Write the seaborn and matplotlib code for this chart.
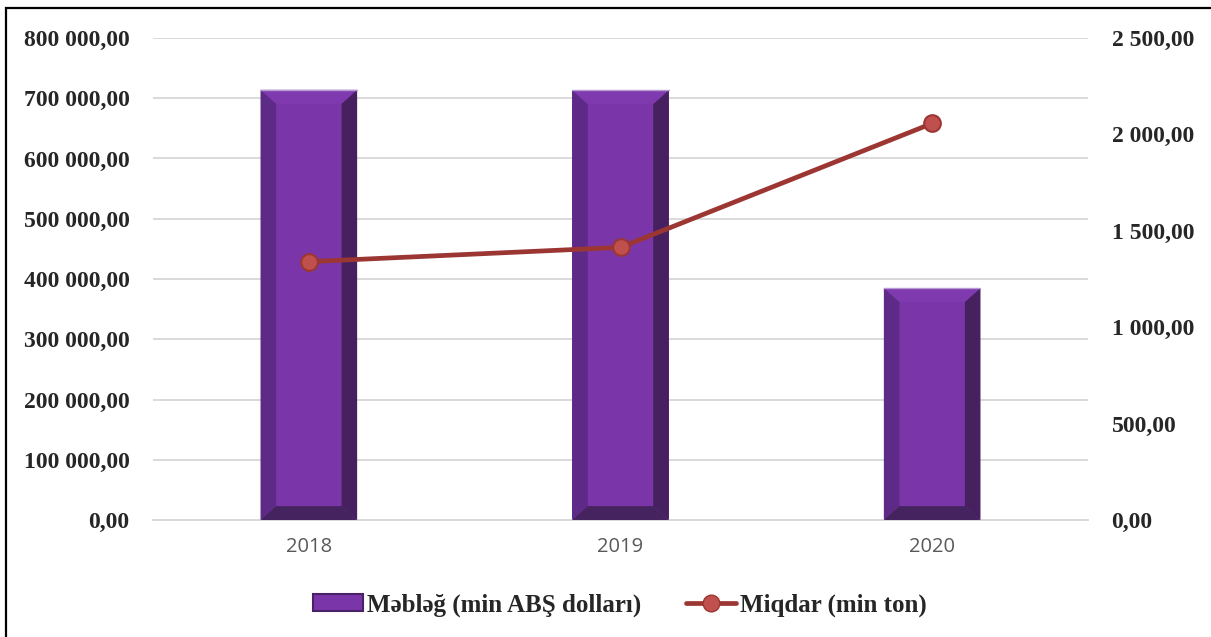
import matplotlib
matplotlib.use("Agg")
import matplotlib.pyplot as plt
from matplotlib.patches import Polygon, Rectangle, Patch
from matplotlib.lines import Line2D
from matplotlib.ticker import FuncFormatter, MultipleLocator
import seaborn as sns
import pandas as pd

# data
years = ["2018", "2019", "2020"]
amount = [714000, 713500, 385000]      # Məbləğ (min ABŞ dolları), left axis
quantity = [1340, 1414, 2057]          # Miqdar (min ton), right axis

bar_label = "Məbləğ (min ABŞ dolları)"
line_label = "Miqdar (min ton)"

df = pd.DataFrame({"year": years, "amount": amount, "quantity": quantity})

purple = "#7A36A8"
line_red = "#9C3633"
marker_red = "#C0504D"
serif = ["Liberation Serif", "DejaVu Serif"]


def fmt(v, pos):
    s = f"{v:,.2f}"
    return s.replace(",", " ").replace(".", ",")


sns.set_style("white")
plt.rcParams["font.family"] = serif

fig = plt.figure(figsize=(12.11, 6.37), dpi=100)
ax = fig.add_axes([153 / 1211, 117 / 637, 935 / 1211, 482 / 637])

sns.barplot(data=df, x="year", y="amount", ax=ax, color=purple,
            width=0.31, saturation=1, edgecolor="none")
ax.set_xlim(-0.5, 2.5)
ax.set_ylim(0, 800000)
ax.yaxis.set_major_locator(MultipleLocator(100000))
ax.yaxis.set_major_formatter(FuncFormatter(fmt))
ax.grid(axis="y", color="#D9D9D9", linewidth=1.4)
ax.set_axisbelow(True)
for s in ["top", "right", "left"]:
    ax.spines[s].set_visible(False)
ax.spines["bottom"].set_color("#D9D9D9")
ax.spines["bottom"].set_linewidth(1.4)
ax.set_xlabel("")
ax.set_ylabel("")
ax.tick_params(axis="y", length=0, pad=17, labelsize=17)
ax.tick_params(axis="x", length=0, pad=12, labelsize=14.5, labelcolor="#595959")
for t in ax.get_yticklabels():
    t.set_fontweight("bold")
for t in ax.get_xticklabels():
    t.set_fontfamily(["Open Sans", "DejaVu Sans"])

# bevel effect on each bar drawn by seaborn
dx = 0.05
dy = 23000
for p in list(ax.patches):
    x0, y0 = p.get_x(), p.get_y()
    x1, y1 = x0 + p.get_width(), y0 + p.get_height()
    faces = [
        ([(x0, y0), (x0 + dx, y0 + dy), (x0 + dx, y1 - dy), (x0, y1)], "#5E2A88"),
        ([(x1, y0), (x1 - dx, y0 + dy), (x1 - dx, y1 - dy), (x1, y1)], "#46205F"),
        ([(x0, y0), (x1, y0), (x1 - dx, y0 + dy), (x0 + dx, y0 + dy)], "#44235E"),
        ([(x0, y1), (x1, y1), (x1 - dx, y1 - dy), (x0 + dx, y1 - dy)], "#7E3AAE"),
    ]
    for pts, c in faces:
        ax.add_patch(Polygon(pts, closed=True, facecolor=c, edgecolor="none", zorder=3))
    ax.add_line(Line2D([x0, x1], [y1, y1], color="#B79AD0", linewidth=1, zorder=4))

ax2 = ax.twinx()
sns.pointplot(data=df, x="year", y="quantity", ax=ax2, color=line_red,
              markers="o", linestyles="-", errorbar=None)
for ln in ax2.lines:
    ln.set_linewidth(3.4)
    ln.set_markersize(12)
    ln.set_markerfacecolor(marker_red)
    ln.set_markeredgecolor(line_red)
    ln.set_markeredgewidth(1.5)
ax2.set_xlim(-0.5, 2.5)
ax2.set_ylim(0, 2500)
ax2.yaxis.set_major_locator(MultipleLocator(500))
ax2.yaxis.set_major_formatter(FuncFormatter(fmt))
for s in ["top", "right", "left", "bottom"]:
    ax2.spines[s].set_visible(False)
ax2.set_xlabel("")
ax2.set_ylabel("")
ax2.grid(False)
ax2.tick_params(axis="y", length=0, pad=17, labelsize=17)
for t in ax2.get_yticklabels():
    t.set_fontweight("bold")

handles = [
    Patch(facecolor=purple, edgecolor="#4A2166", linewidth=1.5),
    Line2D([], [], color=line_red, linewidth=3.4, marker="o", markersize=12,
           markerfacecolor=marker_red, markeredgecolor=line_red),
]
fig.legend(handles, [bar_label, line_label], loc="center",
           bbox_to_anchor=(620 / 1211, 1 - 605 / 637), ncol=2, frameon=False,
           prop={"family": serif, "weight": "bold", "size": 18},
           handlelength=2.0, handletextpad=0.15, columnspacing=1.8)

# outer frame (cropped on right and bottom)
fig.patches.append(Rectangle((6 / 1211, -0.1), 1.2, 0.1 + 1 - 8.5 / 637,
                             transform=fig.transFigure, fill=False,
                             edgecolor="black", linewidth=1.6))

fig.savefig("out.png", dpi=100)
